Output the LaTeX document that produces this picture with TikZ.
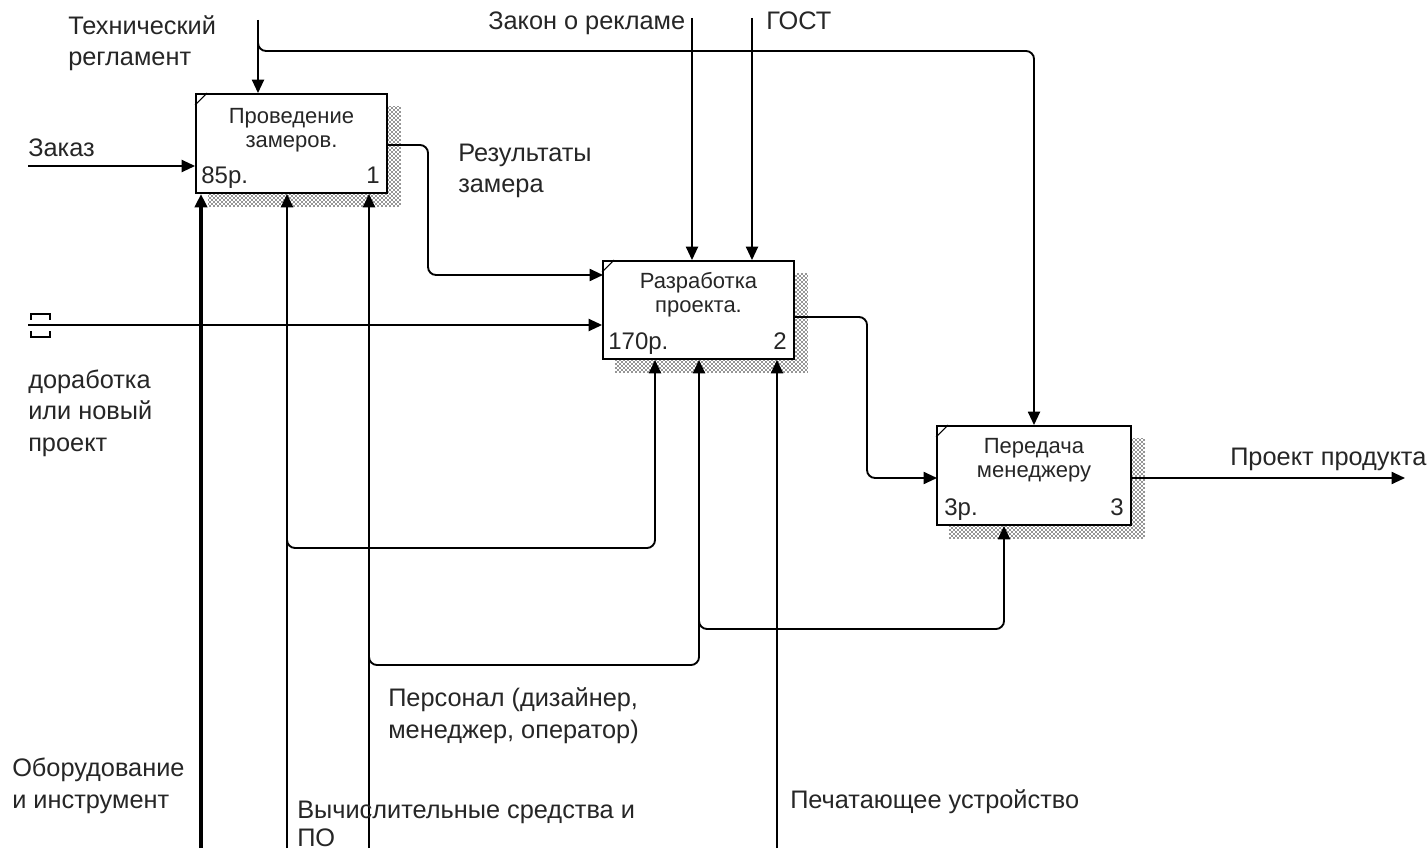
\documentclass[tikz,border=0pt]{standalone}
\usepackage{fontspec}
\setmainfont{Liberation Sans}
\usetikzlibrary{arrows.meta,patterns,backgrounds}
\begin{document}
\begin{tikzpicture}[x=0.75pt,y=-0.75pt,
  ln/.style={line width=1.4pt, black},
  conn/.style={ln, -{Triangle[length=10pt,width=9pt]}},
  rconn/.style={conn, rounded corners=6pt},
  fn/.style={draw, line width=1.4pt, fill=white, inner sep=0pt, minimum height=74.25pt},
  boxtitle/.style={font=\fontsize{16.5}{18}\selectfont, align=center, inner sep=0pt, text=black!85},
  boxnum/.style={font=\fontsize{18}{20}\selectfont, inner sep=0pt, text=black!85},
  lbl/.style={font=\fontsize{19}{23.5}\selectfont, align=left, inner sep=0pt, anchor=base west, text=black!85},
  shade/.style={pattern=crosshatch dots, pattern color=black}
]
\useasboundingbox (0,0) rectangle (1428,852);

% function boxes
\node[fn, minimum width=143.25pt] (b1) at (291.5,143.5) {};
\node[fn, minimum width=143.25pt, minimum height=73.5pt] (b2) at (698.5,310) {};
\node[fn, minimum width=145.5pt] (b3) at (1034,475.5) {};

\begin{scope}[on background layer]
  \fill[white] (0,0) rectangle (1428,852);
  \foreach \b in {b1,b2,b3}{
    \fill[shade] ([shift={(13,13)}]\b.south west) rectangle ([shift={(13,13)}]\b.north east);
    \fill[shade] ([shift={(13,13)}]\b.south west) rectangle ([shift={(13,13)}]\b.north east);
  }
\end{scope}

% corner marks
\draw[line width=0.8pt] ([yshift=-9pt]b1.north west) -- ([xshift=9pt]b1.north west);
\draw[line width=0.8pt] ([yshift=-9pt]b2.north west) -- ([xshift=9pt]b2.north west);
\draw[line width=0.8pt] ([yshift=-9pt]b3.north west) -- ([xshift=9pt]b3.north west);

% box texts (base = last line)
\node[boxtitle, anchor=base] (t1) at ([yshift=-40.5pt]b1.north) {Проведение\\замеров.};
\node[boxtitle, anchor=base] (t2) at ([yshift=-39pt]b2.north) {Разработка\\проекта.};
\node[boxtitle, anchor=base] (t3) at ([yshift=-39pt]b3.north) {Передача\\менеджеру};
\node[boxnum, anchor=base west] (c1) at ([shift={(6,-10)}]b1.south west) {85р.};
\node[boxnum, anchor=base east] (n1) at ([shift={(-8,-10)}]b1.south east) {1};
\node[boxnum, anchor=base west] (c2) at ([shift={(6,-10)}]b2.south west) {170р.};
\node[boxnum, anchor=base east] (n2) at ([shift={(-8,-10)}]b2.south east) {2};
\node[boxnum, anchor=base west] (c3) at ([shift={(8,-10)}]b3.south west) {3р.};
\node[boxnum, anchor=base east] (n3) at ([shift={(-8,-10)}]b3.south east) {3};

% free ends and helper coordinates
\coordinate (zakaz) at (28,166);
\coordinate (treg) at (258,20);
\coordinate (tj) at (258,51);
\coordinate (zak) at (692,18);
\coordinate (gost) at (752,18);
\coordinate (r1) at (428,145);
\coordinate (in2a) at (603,275);
\coordinate (dor) at (28,325);
\coordinate (b2out) at (794,317);
\coordinate (r2) at (867,317);
\coordinate (in3) at (937,478);
\coordinate (b3out) at (1131,478);
\coordinate (res) at (1405,478);
\coordinate (obor) at (201,848);
\coordinate (vych) at (287,848);
\coordinate (pers) at (369,848);
\coordinate (pech) at (777,848);
\coordinate (vj) at (287,548);
\coordinate (m2a) at (655,0);
\coordinate (pj) at (369,665);
\coordinate (m2b) at (699,0);
\coordinate (pk) at (699,629);
\coordinate (m3) at (1004,0);

% inputs
\draw[conn] (zakaz) -- (zakaz -| b1.west);
\draw[conn] (dor) -- (dor -| b2.west);
\draw[ln] (31,320) -- (31,314) -- (50,314) -- (50,320);
\draw[ln] (31,331) -- (31,337) -- (50,337) -- (50,331);
\draw[rconn] (b1.east |- r1) -- (r1) -- (r1 |- in2a) -- (in2a);
\draw[rconn] (b2out) -- (r2) -- (r2 |- in3) -- (in3);

% controls
\draw[conn] (treg) -- (treg |- b1.north);
\draw[rconn] ([yshift=6pt]tj) -- (tj) -- (b3.north |- tj) -- (b3.north);
\draw[conn] (zak) -- (zak |- b2.north);
\draw[conn] (gost) -- (gost |- b2.north);

% output
\draw[conn] (b3out) -- (res);

% mechanisms
\draw[conn, line width=2.6pt] (obor) -- (obor |- b1.south);
\draw[conn] (vych) -- (vych |- b1.south);
\draw[conn] (pers) -- (pers |- b1.south);
\draw[conn] (pech) -- (pech |- b2.south);
\draw[rconn] ([yshift=4pt]vj) -- (vj) -- (vj -| m2a) -- (m2a |- b2.south);
\draw[rconn] ([yshift=4pt]pj) -- (pj) -- (pj -| m2b) -- (m2b |- b2.south);
\draw[rconn] ([yshift=4pt]pk) -- (pk) -- (pk -| m3) -- (m3 |- b3.south);

% labels (base = last line)
\node[lbl] (ltreg) at (68,66) {Технический\\регламент};
\node[lbl] (lzakaz) at (28,157) {Заказ};
\node[lbl] (lzak) at (488,30) {Закон о рекламе};
\node[lbl] (lgost) at (766,30) {ГОСТ};
\node[lbl] (lres) at (458,193) {Результаты\\замера};
\node[lbl] (ldor) at (28,451) {доработка\\или новый\\проект};
\node[lbl] (lout) at (1230,465) {Проект продукта};
\node[lbl] (lpers) at (388,738) {Персонал (дизайнер,\\менеджер, оператор)};
\node[lbl] (lobor) at (12,808) {Оборудование\\и инструмент};
\node[lbl, font=\fontsize{19}{21}\selectfont] (lvych) at (297,846) {Вычислительные средства и\\ПО};
\node[lbl] (lpech) at (790,808) {Печатающее устройство};
\end{tikzpicture}
\end{document}
